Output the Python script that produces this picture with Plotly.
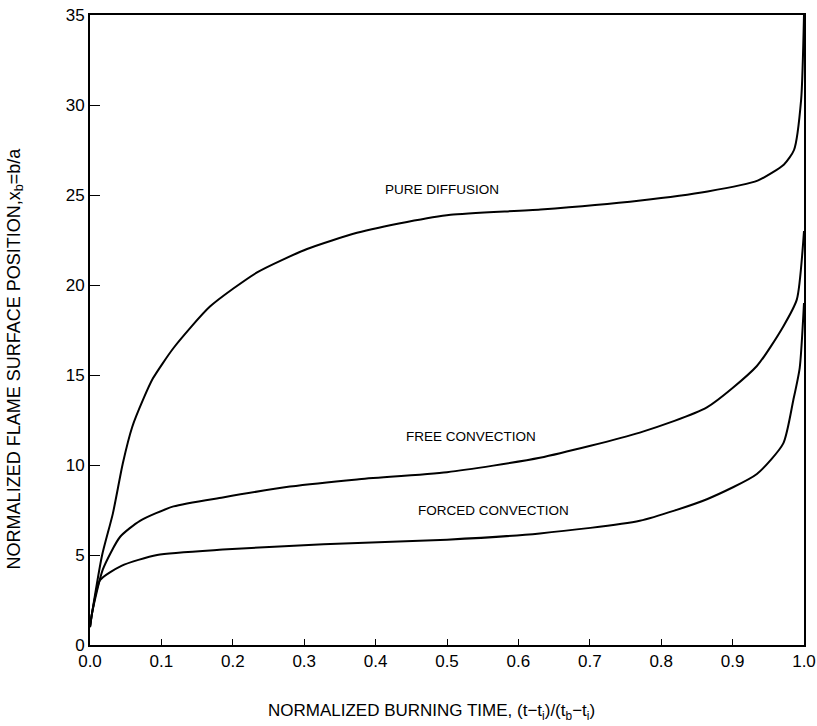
import plotly.graph_objects as go

# Data
pure_x = [0, 0.003, 0.017, 0.032, 0.046, 0.059, 0.074, 0.088, 0.117, 0.168, 0.234,
          0.304, 0.374, 0.444, 0.505, 0.631, 0.771, 0.865, 0.935, 0.972, 0.986, 0.996, 1.0]
pure_y = [1.0, 1.8, 5.0, 7.3, 10.1, 12.1, 13.6, 14.8, 16.5, 18.8, 20.7,
          22.0, 22.9, 23.5, 23.9, 24.2, 24.7, 25.2, 25.8, 26.7, 27.5, 30.3, 35.0]

free_x = [0, 0.003, 0.018, 0.042, 0.070, 0.117, 0.186, 0.280, 0.374, 0.50,
          0.630, 0.770, 0.864, 0.934, 0.971, 0.990, 1.0]
free_y = [1.0, 1.8, 4.2, 6.0, 6.9, 7.7, 8.2, 8.8, 9.2, 9.6,
          10.4, 11.8, 13.2, 15.5, 17.7, 19.2, 23.0]

forced_x = [0, 0.003, 0.014, 0.044, 0.094, 0.186, 0.327, 0.50, 0.630, 0.770,
            0.864, 0.934, 0.971, 0.985, 0.994, 1.0]
forced_y = [1.0, 1.8, 3.6, 4.4, 5.0, 5.3, 5.6, 5.85, 6.2, 6.9,
            8.1, 9.5, 11.2, 13.6, 15.4, 19.0]

labels = ["PURE DIFFUSION", "FREE CONVECTION", "FORCED CONVECTION"]
label_x = [0.493, 0.534, 0.565]
label_y = [25.3, 11.6, 7.5]

x_ticks = [0.0, 0.1, 0.2, 0.3, 0.4, 0.5, 0.6, 0.7, 0.8, 0.9, 1.0]
y_ticks = [0, 5, 10, 15, 20, 25, 30, 35]

FONT = "Liberation Sans, Arial, sans-serif"

fig = go.Figure()
for xs, ys in [(pure_x, pure_y), (free_x, free_y), (forced_x, forced_y)]:
    fig.add_trace(go.Scatter(x=xs, y=ys, mode="lines",
                             line=dict(color="black", width=2, shape="spline", smoothing=0.6),
                             showlegend=False, hoverinfo="skip"))

for t, lx, ly in zip(labels, label_x, label_y):
    fig.add_annotation(x=lx, y=ly, text=t, showarrow=False,
                       font=dict(family=FONT, size=13.5, color="black"))

fig.add_annotation(xref="paper", yref="paper", x=0.478, y=-0.085,
                   text="NORMALIZED BURNING TIME, (t\u2212t<sub>i</sub>)/(t<sub>b</sub>\u2212t<sub>i</sub>)",
                   showarrow=False, yanchor="top", xanchor="center",
                   font=dict(family=FONT, size=17, color="black"))
fig.add_annotation(xref="paper", yref="paper", x=-0.105, y=0.455,
                   text="NORMALIZED FLAME SURFACE POSITION,x<sub>b</sub>=b/a",
                   showarrow=False, textangle=-90, xanchor="center", yanchor="middle",
                   font=dict(family=FONT, size=18, color="black"))

fig.update_xaxes(range=[0, 1], tickvals=x_ticks, tickformat=".1f",
                 ticks="inside", ticklen=6, tickcolor="black", tickwidth=1,
                 showline=True, linecolor="black", linewidth=2, mirror=True,
                 showgrid=False, zeroline=False, automargin=False,
                 tickfont=dict(family=FONT, size=17, color="black"))
fig.update_yaxes(range=[0, 35], tickvals=y_ticks,
                 ticks="inside", ticklen=10, tickcolor="black", tickwidth=1,
                 showline=True, linecolor="black", linewidth=2, mirror=True,
                 showgrid=False, zeroline=False, automargin=False,
                 tickfont=dict(family=FONT, size=17, color="black"))

fig.update_layout(width=817, height=726,
                  margin=dict(l=90, r=13, t=15, b=81, autoexpand=False),
                  plot_bgcolor="white", paper_bgcolor="white")

fig.write_html("out.html", config={"displayModeBar": False},
               post_script="document.body.style.margin='0px';document.body.style.overflow='hidden';")
